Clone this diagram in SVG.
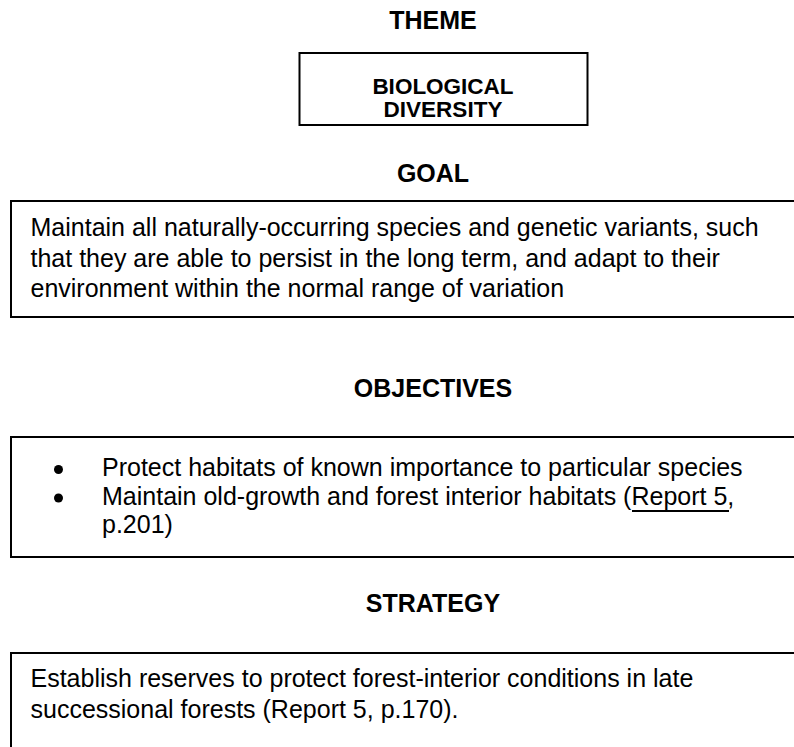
<svg xmlns="http://www.w3.org/2000/svg" width="794" height="747" viewBox="0 0 794 747">
<style>
  .head { font-family: "Liberation Sans", Arial, sans-serif; font-weight: bold; font-size: 25px; fill: #000; text-anchor: middle; }
  .theme { font-family: "Liberation Sans", Arial, sans-serif; font-weight: bold; font-size: 22.5px; fill: #000; text-anchor: middle; }
  .body { font-family: "Liberation Sans", Arial, sans-serif; font-size: 25px; fill: #000; }
  .box { fill: #fff; stroke: #000; stroke-width: 2; }
</style>
<rect x="0" y="0" width="794" height="747" fill="#fff"/>

<g id="theme">
  <text class="head" x="433" y="29">THEME</text>
  <rect class="box" x="299.5" y="53" width="288" height="72"/>
  <text class="theme" x="443" y="94">BIOLOGICAL</text>
  <text class="theme" x="443" y="116.5">DIVERSITY</text>
</g>

<g id="goal">
  <text class="head" x="433" y="182">GOAL</text>
  <rect class="box" x="11" y="201" width="800" height="116"/>
  <text class="body" x="30.5" y="236">Maintain all naturally-occurring species and genetic variants, such</text>
  <text class="body" x="30.5" y="266.5">that they are able to persist in the long term, and adapt to their</text>
  <text class="body" x="30.5" y="297">environment within the normal range of variation</text>
</g>

<g id="objectives">
  <text class="head" x="433" y="397">OBJECTIVES</text>
  <rect class="box" x="11" y="437" width="800" height="120"/>
  <circle cx="58.5" cy="469.5" r="4.5" fill="#000"/>
  <circle cx="58.5" cy="498" r="4.5" fill="#000"/>
  <text class="body" x="102" y="476">Protect habitats of known importance to particular species</text>
  <text class="body" x="102" y="504.5">Maintain old-growth and forest interior habitats (<tspan id="report-link">Report 5</tspan>,</text>
  <line x1="632" y1="511" x2="729" y2="511" stroke="#000" stroke-width="2"/>
  <text class="body" x="102" y="533">p.201)</text>
</g>

<g id="strategy">
  <text class="head" x="433" y="612">STRATEGY</text>
  <rect class="box" x="11" y="653" width="800" height="110"/>
  <text class="body" x="30.5" y="687">Establish reserves to protect forest-interior conditions in late</text>
  <text class="body" x="30.5" y="718">successional forests (Report 5, p.170).</text>
</g>

<g id="connectors"></g>
</svg>
